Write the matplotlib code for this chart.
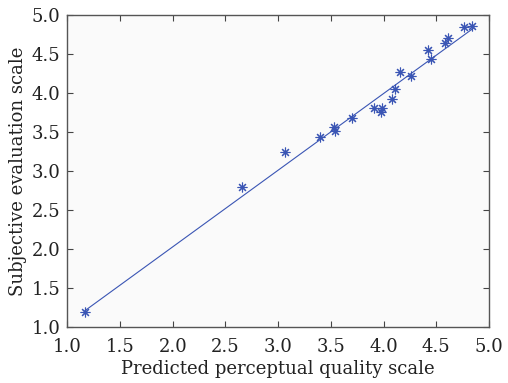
import matplotlib
matplotlib.use("Agg")
import matplotlib.pyplot as plt

# predicted vs subjective scores
pred = [1.168, 2.654, 3.062, 3.400, 3.530, 3.542, 3.697, 3.912, 3.972, 3.988,
        4.083, 4.111, 4.156, 4.260, 4.425, 4.447, 4.586, 4.608, 4.763, 4.842]
subj = [1.196, 2.789, 3.241, 3.429, 3.557, 3.506, 3.672, 3.800, 3.753, 3.800,
        3.920, 4.052, 4.270, 4.215, 4.543, 4.432, 4.637, 4.705, 4.846, 4.859]

# fitted line end points
fit_x = [1.168, 4.85]
fit_y = [1.21, 4.825]

ticks = [1.0, 1.5, 2.0, 2.5, 3.0, 3.5, 4.0, 4.5, 5.0]

plt.rcParams['font.family'] = ['DejaVu Serif']
plt.rcParams['font.size'] = 13

fig = plt.figure(figsize=(5.08, 3.83), dpi=100)
ax = fig.add_axes([0.1325, 0.1462, 0.8301, 0.8154])
ax.set_facecolor('#fafafa')

blue = '#3a55b4'
ax.plot(fit_x, fit_y, color=blue, lw=0.8)
ax.plot(pred, subj, linestyle='none', marker=(8, 2, 0), markersize=7,
        markeredgewidth=0.8, color=blue)

ax.set_xlim(1.0, 5.0)
ax.set_ylim(1.0, 5.0)
ax.set_xticks(ticks)
ax.set_yticks(ticks)
ax.set_xticklabels(['%.1f' % t for t in ticks])
ax.set_yticklabels(['%.1f' % t for t in ticks])
ax.tick_params(direction='in', top=True, right=True, length=4, width=0.8,
               color='#444444', labelcolor='#222222')
ax.tick_params(axis='x', pad=8)
ax.tick_params(axis='y', pad=5)
for s in ax.spines.values():
    s.set_color('#555555')
    s.set_linewidth(1.0)

ax.set_xlabel('Predicted perceptual quality scale', color='#222222', labelpad=3)
ax.set_ylabel('Subjective evaluation scale', color='#222222', labelpad=3)

fig.savefig('out.png', dpi=100)
